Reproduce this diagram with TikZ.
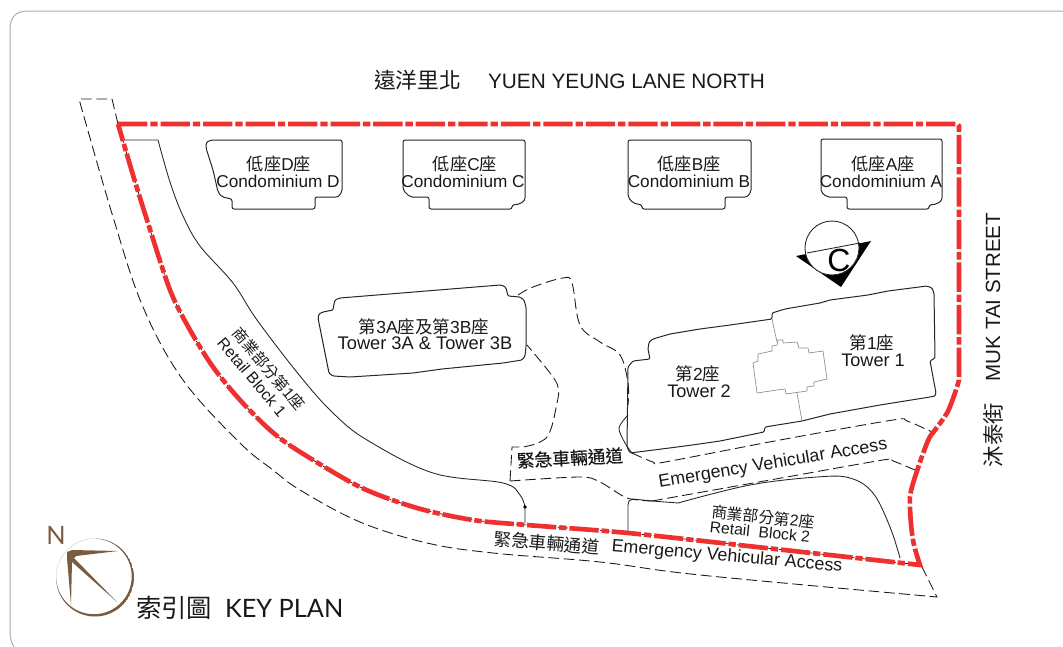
\documentclass[tikz,border=0pt]{standalone}
\usepackage{fontspec}
\setmainfont{Liberation Sans}
\newfontfamily\cjk{Noto Sans CJK TC}
\newfontfamily\cjkb[FakeBold=0.5]{Noto Sans CJK TC}
\newfontfamily\keyfont{Lato}
\newcommand\fsz[1]{\fontsize{#1}{#1}\selectfont}
\newcommand\zh[1]{{\cjk #1}}
\definecolor{redline}{HTML}{EE3030}
\definecolor{framecol}{HTML}{B8AA9C}
\definecolor{brownc}{HTML}{7A5C40}
\definecolor{greyc}{HTML}{8C8C8C}
\tikzset{
 thinline/.style={line width=0.65pt,black!85,line join=round},
 dashline/.style={line width=0.65pt,black!90,dash pattern=on 8pt off 3.5pt},
 greyline/.style={line width=0.5pt,greyc},
 redbound/.style={line width=3.5pt,redline,dash pattern=on 22pt off 2.2pt on 5.5pt off 2.2pt},
 blackunder/.style={line width=0.5pt,black},
 bldg/.style={line width=0.75pt,black!85,rounded corners=1.6pt,line join=round},
 tower/.style={line width=0.75pt,black!85,rounded corners=0.9pt,line join=round},
 lbl/.style={inner sep=0pt,outer sep=0pt,align=center,text=black!90},
}
\newcommand\leftbottom{(920,565)(775,549)(628,533)(527,525)(473,520)(417,508)(360,487)(297,450)(270,430)(240,400)(213,367)(190,330)(170,290)(147,220)(133,175)(118,124)}
\begin{document}
\begin{tikzpicture}[x=0.75pt,y=-0.75pt]
\useasboundingbox (0,0) rectangle (1063,646);
\clip (0,0) rectangle (1063,646);
% frame
\draw[framecol,line width=0.75pt] (1070,11) -- (28,11) .. controls (16,11) and (10,17) .. (10,29) -- (10,630) .. controls (10,638) and (11,642) .. (14,647);
% outer dashed road
\draw[dashline] (118,124) -- (112,99) -- (79,99) -- plot[smooth,tension=.6] coordinates {(79,99)(113,217)(143,307)(183,380)(240,443)(273,470)(300,490)(360,522)(427,543)(493,553)(600,562)(700,575)(937,597)} -- (921,565);
% retail block 1 line
\draw[thinline] (123,140) -- (158,140) -- plot[smooth,tension=.6] coordinates {(158,140)(170,182)(183,216)(200,246)(233,283)(257,320)(300,376)(333,413)(367,440)(433,473)(503,483)(520,495)(525,507)} -- (525,523);
\fill (525,507) circle (1.8);
% retail block 2 line
\draw[thinline] (628,533) -- (628,505) -- (629,501) -- (633,499) -- (652,501) -- (678,503) -- plot[smooth,tension=.6] coordinates {(678,503)(750,485)(817,477)(850,478)(873,493)(890,527)(900,558)};
\fill (628,533) circle (1.8);
% emergency access dashed
\draw[dashline] (510,481) -- (512,447) -- (523,447) -- plot[smooth,tension=.6] coordinates {(523,447)(547,437)(557,403)(558,387)(550,373)(527,345)};
\draw[dashline] (518,295) -- plot[smooth,tension=.6] coordinates {(518,295)(533,287)(563,278)(572,283)(580,325)(600,342)(620,355)(628,383)(628,405)};
\draw[thinline] plot[smooth,tension=.5] coordinates {(628,415)(619,428)(625,443)(632,453)};
\draw[dashline] plot[smooth,tension=.5] coordinates {(632,453)(653,462)(665,462)(780,440)(893,420)(907,421)(932,432)};
\draw[dashline] plot[smooth,tension=.5] coordinates {(510,481)(580,477)(600,482)(627,498)(652,501)};
\draw[dashline] plot[smooth,tension=.5] coordinates {(652,501)(770,480)(883,460)(893,461)(915,470)};
% red boundary
\draw[blackunder,dash pattern=on 3pt off 1.5pt] plot[smooth,tension=.5] coordinates {\leftbottom};
\draw[redbound] (118,124) -- (957,124) -- (959,126) -- (959,380) -- plot[smooth,tension=.6] coordinates {(959,380)(955,393)(947,413)(935,430)(927,443)(912,487)(910,507)(913,540)(920,565)} -- plot[smooth,tension=.5] coordinates {\leftbottom};
% condos
\draw[bldg] (206,143) -- (210,140) -- (342,140) -- (342,192) -- (338,197) -- (315,197) -- (315,209) -- (232,209) -- (232,199) -- (222,197) -- (218,192) -- (213,170) -- (206,148) -- cycle;
\draw[bldg] (403,140) -- (525,140) -- (525,200) -- (520,204) -- (512,205) -- (512,209) -- (429,209) -- (429,197) -- (410,197) -- (403,190) -- cycle;
\draw[bldg] (628,140) -- (751,140) -- (751,192) -- (747,197) -- (725,197) -- (725,209) -- (642,209) -- (642,205) -- (633,203) -- (628,197) -- cycle;
\draw[bldg] (821,139) -- (942,139) -- (942,200) -- (937,204) -- (929,205) -- (929,209) -- (847,209) -- (847,197) -- (827,197) -- (821,192) -- cycle;
% tower 3
\draw[tower] (318,318) -- (319,314) -- (323,312) -- (333,310) -- (334,304) -- (335,300) -- (340,298) -- (500,285) -- (504,286) -- (506,288) -- (508,296) -- (520,297) -- (524,300) -- (526,307) -- (526,347) -- (525,356) -- (522,360) -- (503,363) -- (442,369) -- (413,373) -- (350,377) -- (333,376) -- (329,373) -- cycle;
% towers 1, 2
\draw[tower] (630,453) -- (627,447) -- (628,367) -- (633,361) -- (650,359) -- (648,349) -- (649,342) -- (653,339) -- (670,334) -- (700,329) -- (730,325) -- (772,319) -- (772,313) -- (785,309) -- (820,303) -- (830,300) -- (868,295) -- (888,291) -- (927,286) -- (932,288) -- (934,293) -- (935,358) -- (930,361) -- (936,393) -- (935,396) -- (930,397) -- (880,405) -- (830,414) -- (802,421) -- (765,427) -- (764,432) -- (720,441) -- (685,446) -- (630,453) -- cycle;
\draw[greyline] (753,363) -- (758,361) -- (758,354) -- (772,351) -- (772,346) -- (777,345) -- (778,340) -- (783,340) -- (783,343) -- (797,342) -- (799,348) -- (808,348) -- (809,353) -- (823,351) -- (827,379) -- (814,382) -- (814,386) -- (807,387) -- (807,391) -- (786,394) -- (785,389) -- (777,390) -- (757,393) -- cycle;
\draw[greyline] (772,319) -- (777,342);
\draw[greyline] (797,393) -- (802,421);
% section marker C
\fill[black] (796,256) -- (871,241) -- (841,287) -- cycle;
\draw[thinline,fill=white] (832,248) circle (27);
\draw[thinline] (807,253) -- (860,243);
\node[inner sep=0pt,font=\fsz{24}] (markc) at (839,260) {C};
% labels
\node[lbl,anchor=east,font=\fsz{16.3}] (ttlzh) at (461,80) {\zh{遠洋里北}};
\node[lbl,anchor=west,font=\fsz{15.6}] (ttlen) at (488,81) {YUEN YEUNG LANE NORTH};
\node[lbl,rotate=90,font=\fsz{15.4}] (mukst) at (993,297) {MUK TAI STREET};
\node[lbl,rotate=90,font=\fsz{16}] (mukzh) at (993,435) {\zh{沐泰街}};
\node[lbl,font=\fsz{12.9}] (dz) at (279,164) {\zh{低座}D\zh{座}};
\node[lbl,font=\fsz{12.9}] (de) at (278,181) {Condominium D};
\node[lbl,font=\fsz{12.9}] (cz) at (465,164) {\zh{低座}C\zh{座}};
\node[lbl,font=\fsz{12.9}] (ce) at (463,181) {Condominium C};
\node[lbl,font=\fsz{12.9}] (bz) at (689,164) {\zh{低座}B\zh{座}};
\node[lbl,font=\fsz{12.9}] (be) at (689,181) {Condominium B};
\node[lbl,font=\fsz{12.9}] (az) at (883,164) {\zh{低座}A\zh{座}};
\node[lbl,font=\fsz{12.9}] (ae) at (881,181) {Condominium A};
\node[lbl,font=\fsz{13.1}] (t3z) at (424,327) {\zh{第}3A\zh{座及第}3B\zh{座}};
\node[lbl,font=\fsz{13.7}] (t3e) at (425,343) {Tower 3A \& Tower 3B};
\node[lbl,font=\fsz{13.1}] (t1z) at (872,343) {\zh{第}1\zh{座}};
\node[lbl,font=\fsz{13.6}] (t1e) at (873,360) {Tower 1};
\node[lbl,font=\fsz{13.1}] (t2z) at (698,374) {\zh{第}2\zh{座}};
\node[lbl,font=\fsz{13.6}] (t2e) at (699,391) {Tower 2};
\node[lbl,rotate=-50,font=\fsz{11.6}] (r1z) at (269,369) {\zh{商業部分第}1\zh{座}};
\node[lbl,rotate=-50,font=\fsz{11.9}] (r1e) at (252,377) {Retail Block 1};
\node[lbl,rotate=-6,font=\fsz{11.8}] (r2z) at (763,517) {\zh{商業部分第}2\zh{座}};
\node[lbl,rotate=-6,font=\fsz{11.8}] (r2e) at (760,532) {Retail\ \ Block 2};
\node[lbl,rotate=9.5,font=\fsz{13.4}] (e1) at (773,464) {Emergency Vehicular Access};
\node[lbl,rotate=3,font=\fsz{13.3}] (e1z) at (570,458) {{\cjkb 緊急車輛通道}};
\node[lbl,rotate=-5,font=\fsz{13.2}] (e2z) at (547,543) {\zh{緊急車輛通道}};
\node[lbl,rotate=-5,font=\fsz{13.4}] (e2) at (727,557) {Emergency Vehicular Access};
% compass
\begin{scope}
\clip (95,577.5) circle (39);
\fill[brownc,even odd rule] (95,577.5) circle (39) (93.9,576.4) circle (37.8);
\end{scope}
\fill[brownc] (67,552) -- (72,550) -- (118,551) -- (76,556) -- (74,558) -- (117,602) -- (72,562) -- (71,605) -- (67,558) -- cycle;
\node[lbl,font=\keyfont\fsz{19},text=brownc] (north) at (56,535) {N};
\node[lbl,anchor=west,font=\fsz{19},text=black!90] (kpz) at (136,608) {\zh{索引圖}};
\node[lbl,anchor=west,font=\keyfont\fsz{19},text=black!90] (kpe) at (225,608) {KEY PLAN};
\end{tikzpicture}
\end{document}
